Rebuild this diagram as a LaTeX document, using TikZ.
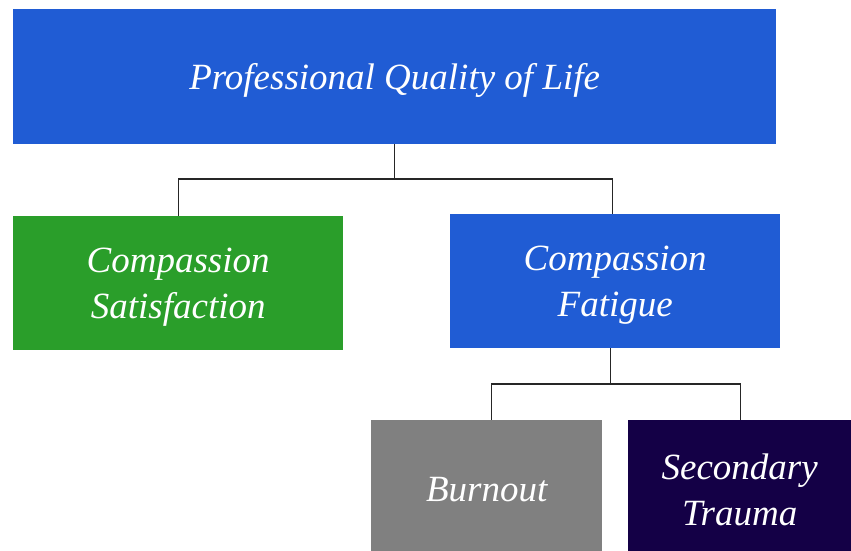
\documentclass[tikz,border=0pt]{standalone}
\usepackage{fontspec}
\setmainfont{Liberation Serif}
\definecolor{pqblue}{RGB}{32,92,212}
\definecolor{csgreen}{RGB}{42,158,42}
\definecolor{bogray}{RGB}{128,128,128}
\definecolor{stpurple}{RGB}{20,0,70}
\begin{document}
\begin{tikzpicture}[x=1pt,y=-1pt,
  box/.style={draw=none, inner sep=0pt, anchor=north west},
  lbl/.style={text=white, inner sep=0pt, yshift=-4pt,
    font=\itshape\fontsize{37}{46}\selectfont, align=center},
  link/.style={draw=black!85, line width=1.3pt}]
\useasboundingbox[fill=white] (0,0) rectangle (851,551);

% Boxes with their centred captions
\node[box, fill=pqblue, minimum width=763pt, minimum height=135pt,
  label={[lbl]center:Professional Quality of Life}] (pql) at (13,9) {};
\node[box, fill=csgreen, minimum width=330pt, minimum height=134pt,
  label={[lbl]center:{Compassion\\Satisfaction}}] (cs) at (13,216) {};
\node[box, fill=pqblue, minimum width=330pt, minimum height=134pt,
  label={[lbl]center:{Compassion\\Fatigue}}] (cf) at (450,214) {};
\node[box, fill=bogray, minimum width=231pt, minimum height=131pt,
  label={[lbl]center:Burnout}] (bo) at (371,420) {};
\node[box, fill=stpurple, minimum width=223pt, minimum height=131pt,
  label={[lbl]center:{Secondary\\Trauma}}] (st) at (628,420) {};

% Connectors
\draw[link] (pql.south) -- ++(0,34.7) -| (cs.north);
\draw[link] (pql.south) -- ++(0,34.7) -| ([xshift=-2.5pt]cf.north);
\draw[link] ([xshift=-5pt]cf.south) -- ++(0,35.5) -| ([xshift=5pt]bo.north);
\draw[link] ([xshift=-5pt]cf.south) -- ++(0,35.5) -| ([xshift=1pt]st.north);
\end{tikzpicture}
\end{document}
